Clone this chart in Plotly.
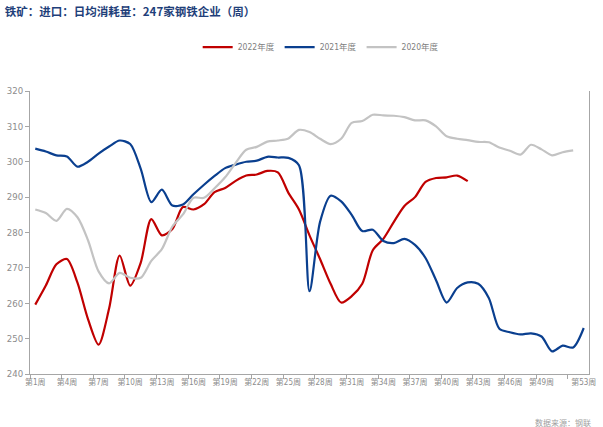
import plotly.graph_objects as go

weeks = list(range(1, 54))

y2022 = [259.6, 265.0, 271.0, 272.5, 265.8, 255.5, 248.3, 258.5, 273.5, 265.0,
         271.5, 283.8, 279.2, 281.0, 287.2, 286.5, 288.0, 291.4, 292.6, 294.6,
         296.1, 296.4, 297.4, 297.0, 291.2, 286.5, 279.2, 272.5, 265.5, 260.2,
         262.0, 265.5, 275.0, 278.2, 283.0, 287.5, 290.0, 294.3, 295.4, 295.6,
         296.1, 294.5]

y2021 = [303.7, 302.9, 301.8, 301.5, 298.6, 300.0, 302.3, 304.3, 306.0, 305.0,
         298.0, 288.6, 292.1, 287.6, 287.9, 290.8, 293.5, 296.0, 298.2, 299.2,
         300.0, 300.3, 301.4, 301.2, 301.1, 299.0, 263.4, 283.0, 290.4, 288.8,
         285.0, 280.4, 280.8, 277.6, 277.0, 278.2, 276.5, 272.8, 266.5, 260.2,
         264.3, 265.9, 265.5, 261.5, 252.8, 251.8, 251.2, 251.5, 250.6, 246.4,
         248.0, 247.5, 253.0]

y2020 = [286.5, 285.5, 283.3, 286.7, 284.3, 277.8, 269.0, 265.6, 268.6, 267.2,
         267.2, 272.0, 275.3, 281.7, 285.1, 289.8, 289.8, 292.5, 295.6, 299.7,
         303.4, 304.2, 305.7, 306.0, 306.6, 309.0, 308.4, 306.5, 305.0, 306.5,
         311.0, 311.5, 313.3, 313.1, 313.0, 312.6, 311.7, 311.7, 310.0, 307.2,
         306.5, 306.1, 305.6, 305.5, 304.0, 303.1, 302.0, 304.8, 303.5, 301.8,
         302.7, 303.2]

tick_vals = [1, 4, 7, 10, 13, 16, 19, 22, 25, 28, 31, 34, 37, 40, 43, 46, 49, 53]
tick_text = ["第%d周" % v for v in tick_vals]

series = [
    ("2022年度", y2022, "#C00000"),
    ("2021年度", y2021, "#0A3F8F"),
    ("2020年度", y2020, "#C3C3C3"),
]

fig = go.Figure()
for name, vals, color in series:
    fig.add_trace(go.Scatter(
        x=weeks[:len(vals)], y=vals, name=name, mode="lines",
        line=dict(color=color, width=2.2, shape="spline", smoothing=0.8),
    ))

font_fam = "DejaVu Sans Condensed, Noto Sans CJK SC, sans-serif"

fig.update_layout(
    width=603, height=427,
    margin=dict(l=30, r=7, t=91, b=53),
    paper_bgcolor="white", plot_bgcolor="white",
    showlegend=True,
    legend=dict(orientation="h", x=0.52, xanchor="center", y=1.155, yanchor="middle",
                font=dict(family=font_fam, size=8.5, color="#808080"),
                itemwidth=30, tracegroupgap=0, bgcolor="rgba(0,0,0,0)"),
    title=dict(text="<b>铁矿：进口：日均消耗量：247家钢铁企业（周）</b>",
               x=0.008, xanchor="left", y=0.972, yanchor="middle",
               font=dict(family="Noto Sans CJK SC", size=11.5, color="#1F3F7A")),
    xaxis=dict(
        range=[0.5, 53.5], tickmode="array", tickvals=tick_vals, ticktext=tick_text,
        ticks="", showgrid=False, zeroline=False, tickangle=0,
        ticklabeloverflow="allow",
        showline=True, linecolor="#A6A6A6", linewidth=1,
        tickfont=dict(family=font_fam, size=8, color="#8C8C8C"),
        minor=dict(tick0=0.5, dtick=3, ticks="outside", ticklen=4,
                   tickcolor="#A6A6A6", showgrid=False),
    ),
    yaxis=dict(
        range=[240, 320], dtick=10, ticks="outside", ticklen=4, tickcolor="#A6A6A6",
        showgrid=False, zeroline=False, showline=True, linecolor="#A6A6A6",
        linewidth=1, mirror=True,
        tickfont=dict(family=font_fam, size=9.5, color="#8C8C8C"),
    ),
)

fig.add_annotation(text="数据来源：钢联", xref="paper", yref="paper",
                   x=1.008, y=-0.145, xanchor="right", yanchor="top", showarrow=False,
                   font=dict(family="Noto Sans CJK SC", size=8, color="#A0A0A0"))

fig.write_html("out.html")
